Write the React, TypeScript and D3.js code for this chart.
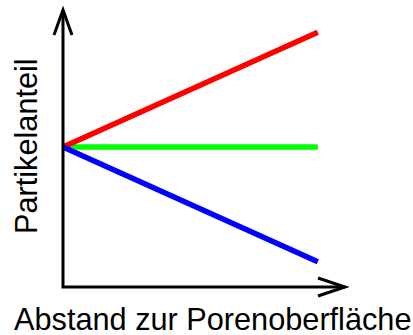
import React, { useEffect, useRef } from 'react';
import * as d3 from 'd3';

// distance from pore surface (0 = surface)
const distance = [0, 91];
const series = ['steigend', 'konstant', 'fallend'];
const seriesValues = [
  [50, 91],
  [50, 50],
  [50, 9],
];
const seriesColors = ['#ff0000', '#00ff00', '#0000ff'];
const xLabel = 'Abstand zur Porenoberfläche';
const yLabel = 'Partikelanteil';

const App = () => {
  const ref = useRef<SVGSVGElement>(null);

  useEffect(() => {
    const width = 413;
    const height = 335;

    const svg = d3.select(ref.current)
      .attr('width', width)
      .attr('height', height);
    svg.selectAll('*').remove();

    const x = d3.scaleLinear().domain([0, 100]).range([63, 343]);
    const y = d3.scaleLinear().domain([0, 100]).range([287, 7]);

    // Lines
    const line = d3.line<number>()
      .x((d, i) => x(distance[i]))
      .y(d => y(d));

    const order = [1, 0, 2];
    order.forEach(k => {
      svg.append('path')
        .attr('d', line(seriesValues[k]))
        .attr('fill', 'none')
        .attr('stroke', seriesColors[k])
        .attr('stroke-width', 5.5)
        .attr('class', series[k]);
    });

    // Axes with open arrowheads
    const x0 = x(0), y0 = y(0);
    const xEnd = 345, yEnd = 10;
    svg.append('path')
      .attr('d', `M${x0},${yEnd} L${x0},${y0} L${xEnd},${y0}`)
      .attr('fill', 'none')
      .attr('stroke', '#000')
      .attr('stroke-width', 3)
      .attr('stroke-linejoin', 'miter');
    svg.append('path')
      .attr('d', `M${x0 - 9},${yEnd + 25} L${x0},${yEnd} L${x0 + 9},${yEnd + 25}`)
      .attr('fill', 'none')
      .attr('stroke', '#000')
      .attr('stroke-width', 3);
    svg.append('path')
      .attr('d', `M${xEnd - 27},${y0 - 9} L${xEnd},${y0} L${xEnd - 27},${y0 + 9}`)
      .attr('fill', 'none')
      .attr('stroke', '#000')
      .attr('stroke-width', 3);

    // Labels
    svg.append('text')
      .attr('x', 14)
      .attr('y', 330)
      .attr('font-family', 'Liberation Sans, Arial, sans-serif')
      .attr('font-size', 30.7)
      .attr('fill', '#000')
      .text(xLabel);

    svg.append('text')
      .attr('transform', `translate(37,234) rotate(-90)`)
      .attr('font-family', 'Liberation Sans, Arial, sans-serif')
      .attr('font-size', 30.7)
      .attr('fill', '#000')
      .text(yLabel);
  }, []);

  return (
    <svg ref={ref} style={{ position: 'absolute', left: 0, top: 0 }}></svg>
  );
};

export default App;
